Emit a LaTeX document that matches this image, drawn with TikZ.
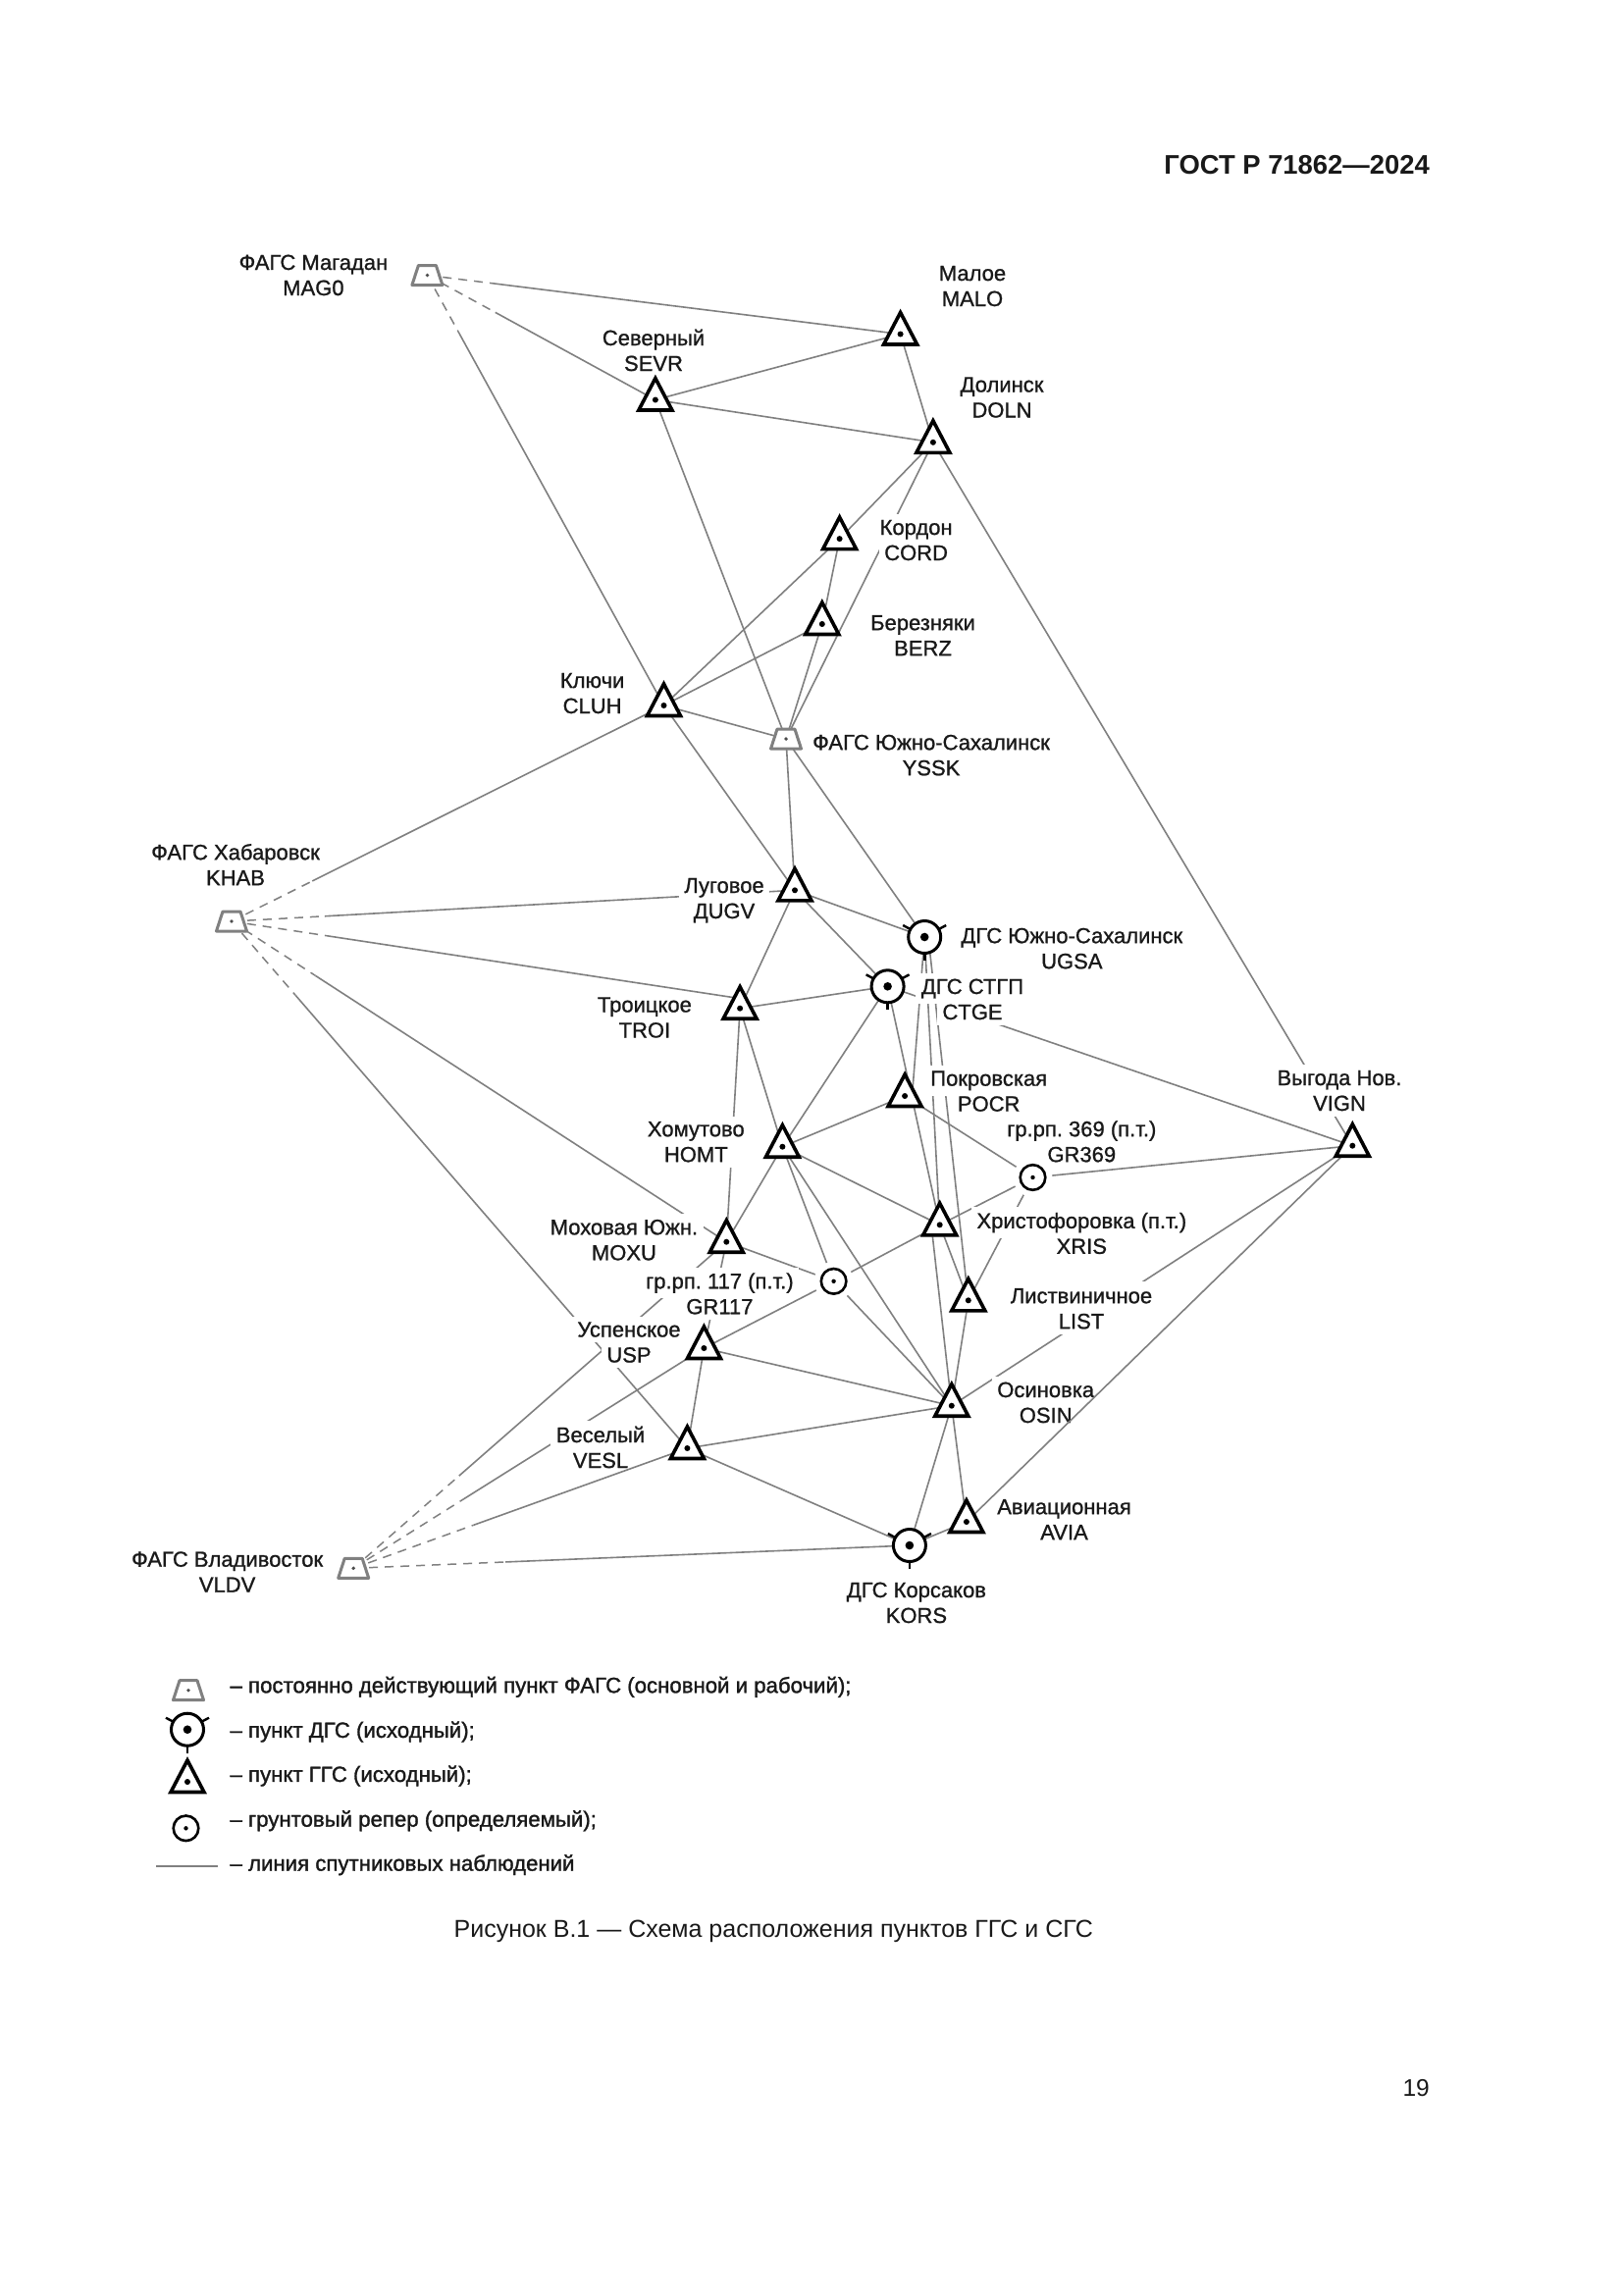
\documentclass[tikz,border=0pt]{standalone}
\usepackage{fontspec}
\setmainfont{Liberation Sans}
\newfontfamily\lblfont[FakeBold=1.0]{Liberation Sans}
\newfontfamily\legfont[FakeBold=1.4]{Liberation Sans}
\usetikzlibrary{calc}
\definecolor{ln}{gray}{0.5}
\definecolor{ink}{gray}{0.1}
\definecolor{fgs}{gray}{0.5}
\setlength{\fboxsep}{5.5pt}
\frenchspacing
\newcommand{\lbline}[1]{\rule[-3pt]{0pt}{22pt}\smash{\colorbox{white}{#1}}}
\newcommand{\lb}[2]{\lbline{#1}\\\lbline{#2}}
\tikzset{
  conn/.style={draw=ln,line width=1.6pt},
  dconn/.style={draw=ln,line width=1.5pt,dash pattern=on 9pt off 7pt},
  lbl/.style={align=center,inner sep=0pt,text=ink,font=\lblfont\frenchspacing\fontsize{22}{26}\selectfont},
  leg/.style={anchor=west,inner sep=0pt,text=ink,font=\legfont\frenchspacing\fontsize{22.2}{26}\selectfont},
  tri/.pic={
    \fill[white] (0,-24) -- (19,12) -- (-19,12) -- cycle;
    \draw[black,line width=3.6pt,miter limit=10,line join=miter] (0,-22) -- (17,10.5) -- (-17,10.5) -- cycle;
    \fill[black] (0,0) circle (3pt);
  },
  trap/.pic={
    \draw[fgs,line width=3pt,fill=white,line join=round] (-9,-10) -- (9,-10) -- (15.5,10) -- (-15.5,10) -- cycle;
    \fill[black!70] (0,0) circle (1.9pt);
  },
  dgs/.pic={
    \draw[black,line width=3pt,fill=white] (0,0) circle (16.5pt);
    \fill[black] (0,0) circle (4.3pt);
    \draw[black,line width=2.6pt] (0,17) -- (0,24);
    \draw[black,line width=2.4pt] (-14.5,-8) -- (-22,-12);
    \draw[black,line width=2.4pt] (14.5,-8) -- (22,-12);
  },
  grp/.pic={
    \fill[white] (0,0) circle (20pt);
    \draw[black,line width=2.6pt,fill=white] (0,0) circle (12.8pt);
    \fill[black] (0,0) circle (2.2pt);
  }
}
\newcommand{\fedge}[3]{%
  \path[dconn] (#1) -- ($(#1)!#3pt!(#2)$);
  \path[conn] ($(#1)!#3pt!(#2)$) -- (#2);}
\begin{document}
\begin{tikzpicture}[x=1pt,y=-1pt]
\useasboundingbox (0,0) rectangle (1654,2339);
\fill[white] (0,0) rectangle (1654,2339);
% positions
\coordinate (MAG) at (435.4,280.5);
\coordinate (MALO) at (917.6,340.5);
\coordinate (SEVR) at (667.9,407.5);
\coordinate (DOLN) at (950.9,450.8);
\coordinate (CORD) at (855.6,549.1);
\coordinate (BERZ) at (837.8,636);
\coordinate (CLUH) at (676.5,719);
\coordinate (YSSK) at (801,753.1);
\coordinate (KHAB) at (236,939);
\coordinate (DUGV) at (810,907.3);
\coordinate (UGSA) at (942.2,955);
\coordinate (CTGE) at (904.6,1005.3);
\coordinate (TROI) at (754.1,1027.7);
\coordinate (POCR) at (922.1,1117);
\coordinate (HOMT) at (797.4,1168.7);
\coordinate (VIGN) at (1378.3,1167.7);
\coordinate (GRB) at (1052.5,1200);
\coordinate (XRIS) at (957.7,1248.3);
\coordinate (MOXU) at (740.3,1265.7);
\coordinate (GRA) at (849.6,1305.8);
\coordinate (LIST) at (986.8,1325.3);
\coordinate (USP) at (717.4,1374);
\coordinate (OSIN) at (969.8,1432.7);
\coordinate (VESL) at (700.4,1476);
\coordinate (AVIA) at (984.9,1551);
\coordinate (KORS) at (926.9,1575);
\coordinate (VLDV) at (360.2,1598.3);
\coordinate (XRISb) at (949,1248);
\coordinate (UGSAr) at (946,955);
\coordinate (POCRr) at (929.5,1117);
\coordinate (TROIt) at (754,1017.6);
% connectors broken by labels
\fedge{MAG}{MALO}{69}
\fedge{MAG}{SEVR}{79}
\fedge{MAG}{CLUH}{69}
\fedge{KHAB}{DUGV}{95}
\fedge{KHAB}{MOXU}{102}
\fedge{KHAB}{VESL}{100}
\fedge{VLDV}{MOXU}{143}
\fedge{VLDV}{USP}{133}
\fedge{VLDV}{KORS}{155}
\path[conn] (SEVR) -- (MALO);
\path[conn] (SEVR) -- (DOLN);
\path[conn] (MALO) -- (DOLN);
\path[conn] (SEVR) -- (YSSK);
\path[conn] (DOLN) -- (CORD);
\path[conn] (CORD) -- (CLUH);
\path[conn] (DOLN) -- (YSSK);
\path[conn] (DOLN) -- (VIGN);
\path[conn] (CORD) -- (BERZ);
\path[conn] (BERZ) -- (YSSK);
\path[conn] (BERZ) -- (CLUH);
\path[conn] (CLUH) -- (YSSK);
\path[conn] (CLUH) -- (DUGV);
\path[conn] (YSSK) -- (DUGV);
\path[conn] (YSSK) -- (UGSA);
\path[conn] (DUGV) -- (UGSA);
\path[conn] (DUGV) -- (CTGE);
\path[conn] (DUGV) -- (TROI);
\path[conn] (TROI) -- (CTGE);
\path[conn] (TROI) -- (MOXU);
\path[conn] (TROI) -- (HOMT);
\path[conn] (CTGE) -- (HOMT);
\path[conn] (CTGE) -- (VIGN);
\path[conn] (CTGE) -- (XRIS);
\path[conn] (UGSA) -- (POCRr);
\path[conn] (UGSA) -- (XRIS);
\path[conn] (UGSAr) -- (LIST);
\path[conn] (XRISb) -- (OSIN);
\path[conn] (XRIS) -- (LIST);
\path[conn] (POCR) -- (HOMT);
\path[conn] (HOMT) -- (XRIS);
\path[conn] (HOMT) -- (MOXU);
\path[conn] (HOMT) -- (GRA);
\path[conn] (HOMT) -- (OSIN);
\path[conn] (GRA) -- (OSIN);
\path[conn] (GRA) -- (MOXU);
\path[conn] (GRA) -- (XRIS);
\path[conn] (GRB) -- (XRIS);
\path[conn] (GRB) -- (VIGN);
\path[conn] (GRB) -- (LIST);
\path[conn] (LIST) -- (OSIN);
\path[conn] (USP) -- (OSIN);
\path[conn] (USP) -- (VESL);
\path[conn] (USP) -- (MOXU);
\path[conn] (VESL) -- (OSIN);
\path[conn] (VESL) -- (KORS);
\path[conn] (OSIN) -- (KORS);
\path[conn] (OSIN) -- (AVIA);
\path[conn] (OSIN) -- (VIGN);
\path[conn] (AVIA) -- (KORS);
% labels
\node[lbl] (lMAG) at (319.4,280) {\lb{ФАГС Магадан}{MAG0}};
\node[lbl] (lMALO) at (991,291) {\lb{Малое}{MALO}};
\node[lbl] (lSEVR) at (666,357) {\lb{Северный}{SEVR}};
\node[lbl] (lDOLN) at (1021,404.5) {\lb{Долинск}{DOLN}};
\node[lbl] (lCORD) at (933.6,550) {\lb{Кордон}{CORD}};
\node[lbl] (lBERZ) at (940.5,647.2) {\lb{Березняки}{BERZ}};
\node[lbl] (lCLUH) at (603.6,706) {\lb{Ключи}{CLUH}};
\node[lbl] (lYSSK) at (949,769.2) {\lb{ФАГС Южно-Сахалинск}{YSSK}};
\node[lbl] (lKHAB) at (240,881.2) {\lb{ФАГС Хабаровск}{KHAB}};
\node[lbl] (lDUGV) at (738,915) {\lb{Луговое}{ДUGV}};
\node[lbl] (lUGSA) at (1092.3,966.2) {\lb{ДГС Южно-Сахалинск}{UGSA}};
\node[lbl] (lCTGE) at (991,1018) {\lb{ДГС СТГП}{CTGE}};
\node[lbl] (lTROI) at (656.9,1036.5) {\lb{Троицкое}{TROI}};
\node[lbl] (lPOCR) at (1007.7,1111.6) {\lb{Покровская}{POCR}};
\node[lbl] (lVIGN) at (1365,1111) {\lb{Выгода Нов.}{VIGN}};
\node[lbl] (lHOMT) at (709.3,1163.2) {\lb{Хомутово}{HOMT}};
\node[lbl] (lGRB) at (1102.3,1163.2) {\lb{гр.рп. 369 (п.т.)}{GR369}};
\node[lbl] (lXRIS) at (1102.3,1256.8) {\lb{Христофоровка (п.т.)}{XRIS}};
\node[lbl] (lMOXU) at (635.9,1263.3) {\lb{Моховая Южн.}{MOXU}};
\node[lbl] (lGRA) at (733.4,1318.3) {\lb{гр.рп. 117 (п.т.)}{GR117}};
\node[lbl,fill=white,inner ysep=3pt] (lLIST) at (1102,1333.2) {\lb{Листвиничное}{LIST}};
\node[lbl] (lUSP) at (641,1367.5) {\lb{Успенское}{USP}};
\node[lbl] (lOSIN) at (1065.7,1429) {\lb{Осиновка}{OSIN}};
\node[lbl] (lVESL) at (612,1475) {\lb{Веселый}{VESL}};
\node[lbl] (lAVIA) at (1084.5,1548.2) {\lb{Авиационная}{AVIA}};
\node[lbl] (lVLDV) at (231.6,1601.7) {\lb{ФАГС Владивосток}{VLDV}};
\node[lbl] (lKORS) at (933.9,1633) {\lb{ДГС Корсаков}{KORS}};
% connectors that pass beside labels unbroken
\fedge{KHAB}{CLUH}{92}
\fedge{KHAB}{TROIt}{100}
\fedge{VLDV}{VESL}{130}
\path[conn] (POCR) -- (GRB);
\path[conn] (GRA) -- (USP);
\path[conn] (AVIA) -- (VIGN);
% symbols
\pic at (MAG) {trap};
\pic at (YSSK) {trap};
\pic at (KHAB) {trap};
\pic at (VLDV) {trap};
\foreach \p in {MALO,SEVR,DOLN,CORD,BERZ,CLUH,DUGV,TROI,POCR,HOMT,VIGN,XRIS,MOXU,LIST,USP,OSIN,VESL,AVIA}
  {\pic at (\p) {tri};}
\foreach \p in {UGSA,CTGE,KORS} {\pic at (\p) {dgs};}
\foreach \p in {GRA,GRB} {\pic at (\p) {grp};}
% legend
\coordinate (kTrap) at (192,1722.7);
\coordinate (kDgs) at (191,1762.7);
\coordinate (kTri) at (191,1816);
\coordinate (kGrp) at (189.5,1863.3);
\coordinate (kLa) at (159.4,1901.7);
\coordinate (kLb) at (221.6,1901.7);
\pic at (kTrap) {trap};
\pic at (kDgs) {dgs};
\pic at (kTri) {tri};
\pic at (kGrp) {grp};
\path[conn] (kLa) -- (kLb);
\node[leg] (t1) at (234.4,1719.3) {– постоянно действующий пункт ФАГС (основной и рабочий);};
\node[leg] (t2) at (234.4,1765) {– пункт ДГС (исходный);};
\node[leg] (t3) at (234.4,1810) {– пункт ГГС (исходный);};
\node[leg] (t4) at (234.4,1855.7) {– грунтовый репер (определяемый);};
\node[leg] (t5) at (234.4,1900.7) {– линия спутниковых наблюдений};
% page furniture
\node[anchor=west,inner sep=0pt,text=ink,font=\fontsize{25}{28}\selectfont] (cap) at (462.4,1968) {Рисунок В.1 — Схема расположения пунктов ГГС и СГС};
\node[anchor=east,inner sep=0pt,text=ink,font=\bfseries\fontsize{27.4}{30}\selectfont] (hdr) at (1457,168) {ГОСТ Р 71862—2024};
\node[anchor=east,inner sep=0pt,text=ink,font=\fontsize{24.5}{28}\selectfont] (pg) at (1457,2128) {19};
\end{tikzpicture}
\end{document}
